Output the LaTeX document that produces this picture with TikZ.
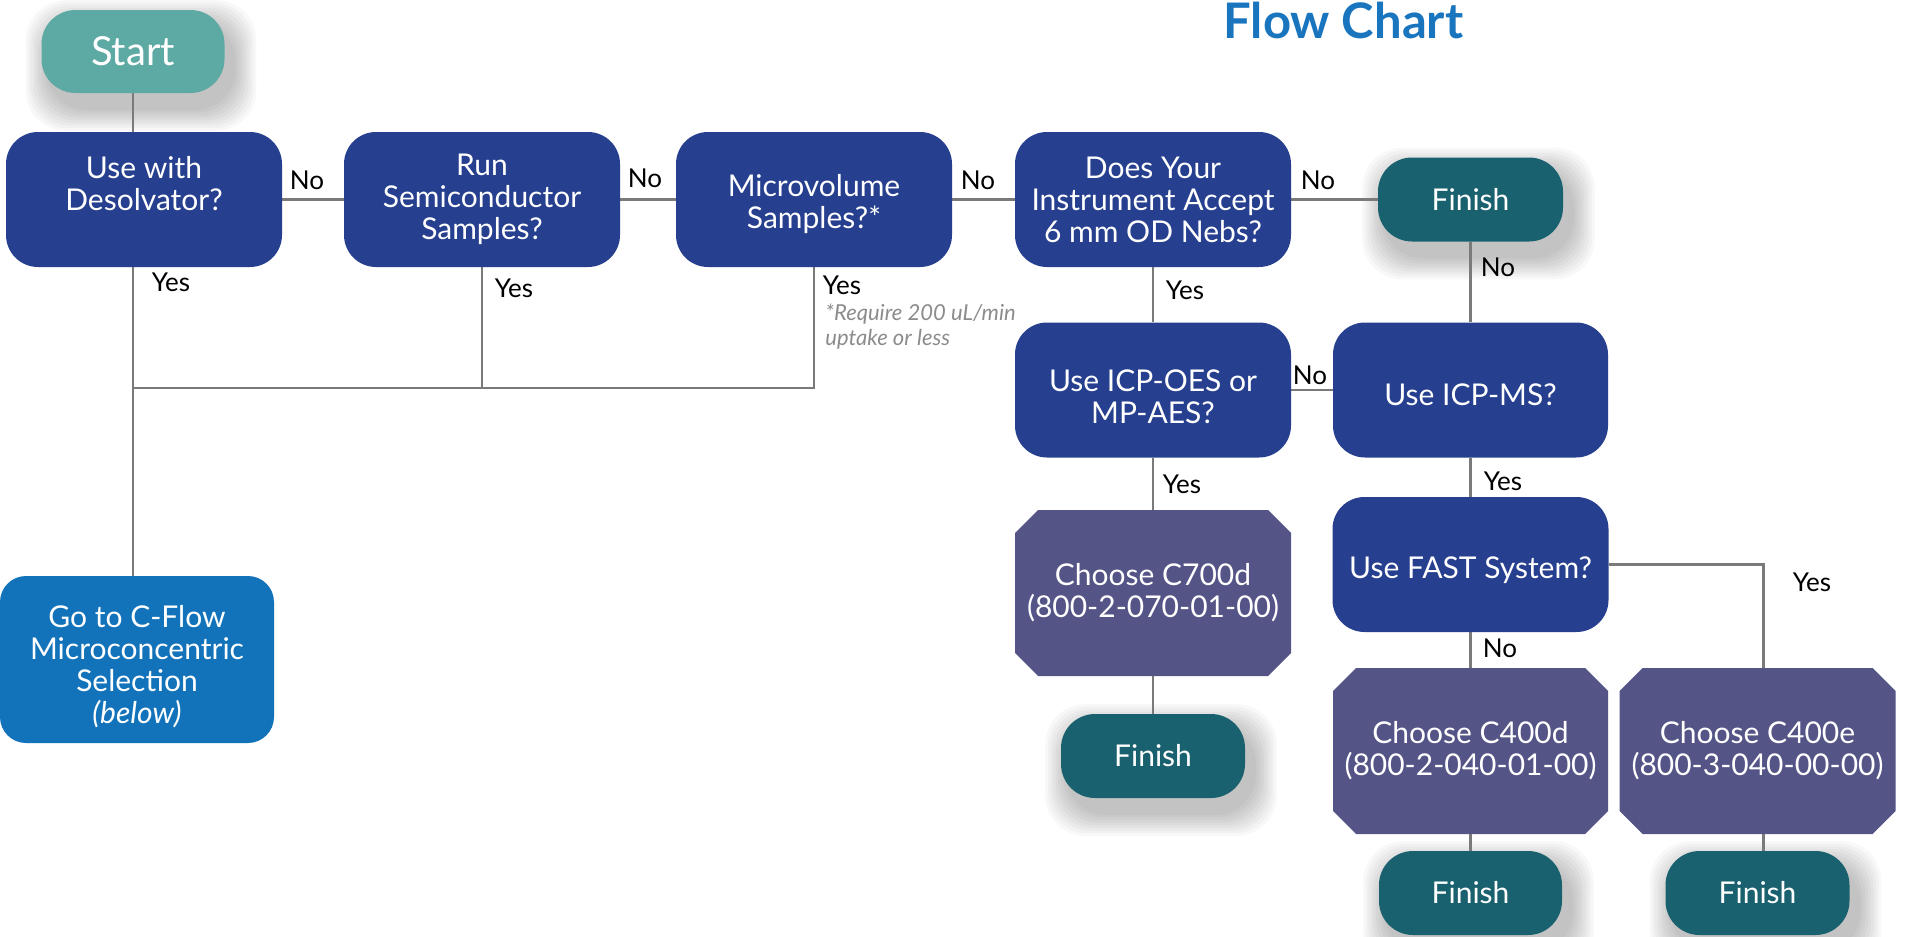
\documentclass[tikz,border=0pt]{standalone}
\usepackage{fontspec}
\setmainfont{Lato}
\usetikzlibrary{backgrounds,calc}
\definecolor{cStart}{RGB}{93,169,164}
\definecolor{cQ}{RGB}{38,63,142}
\definecolor{cFin}{RGB}{25,97,110}
\definecolor{cCh}{RGB}{84,84,134}
\definecolor{cFlow}{RGB}{18,115,186}
\definecolor{cLine}{RGB}{122,122,122}
\definecolor{cTitle}{RGB}{26,117,191}
\definecolor{cNote}{RGB}{140,140,140}
\newcommand{\dn}[1]{\rule{0pt}{#1}}
\tikzset{
 base/.style={inner sep=0pt, text=white, align=center, font=\fontsize{15}{16}\selectfont},
 qbox/.style={base, fill=cQ, rounded corners=16pt, minimum width=138pt, minimum height=67.5pt},
 finbox/.style={base, fill=cFin, rounded corners=17pt, minimum width=92.5pt, minimum height=42pt},
 startbox/.style={base, fill=cStart, rounded corners=17pt, minimum width=91.5pt, minimum height=41.5pt, font=\fontsize{20}{22}\selectfont},
 choosebox/.style={base, minimum width=138pt, minimum height=83pt,
   path picture={\fill[cCh]
     ([xshift=11.5pt]path picture bounding box.south west) --
     ([xshift=-11.5pt]path picture bounding box.south east) --
     ([yshift=11.5pt]path picture bounding box.south east) --
     ([yshift=-11.5pt]path picture bounding box.north east) --
     ([xshift=-11.5pt]path picture bounding box.north east) --
     ([xshift=11.5pt]path picture bounding box.north west) --
     ([yshift=-11.5pt]path picture bounding box.north west) --
     ([yshift=11.5pt]path picture bounding box.south west) -- cycle;}},
 flowbox/.style={base, fill=cFlow, rounded corners=13pt, minimum width=137pt, minimum height=83.5pt},
 conn/.style={draw=cLine, line width=1.4pt},
 lbl/.style={inner sep=0pt, text=black, font=\fontsize{13}{14}\selectfont},
 notetxt/.style={inner sep=0pt, text=cNote, anchor=base west, font=\fontsize{11}{12.5}\selectfont\itshape},
}
\newcommand{\softshade}[1]{%
 \foreach \k in {1,...,9}{%
  \fill[black, opacity=0.028, rounded corners=20pt]
   ($(#1.south west)+({8-\k*2.6},{14+\k*2.6})$) rectangle ($(#1.north east)+({8+\k*2.6},{14-\k*2.6})$);
 }}
\begin{document}
\begin{tikzpicture}[x=0.5pt,y=-0.5pt]
\useasboundingbox (0,0) rectangle (1913,937);
% title
\node[inner sep=0pt, anchor=base west, text=cTitle, font=\fontsize{24.5}{26}\selectfont\bfseries] (title) at (1223,39) {Flow Chart};
% nodes
\node[startbox] (start) at (133,51.5) {Start};
\node[qbox] (des) at (144,199.5) {Use with\\Desolvator?\\~};
\node[qbox] (run) at (482,199.5) {Run\\Semiconductor\\Samples?};
\node[qbox] (micro) at (814,199.5) {\dn{16pt}Microvolume\\Samples?*};
\node[qbox] (does) at (1153,199.5) {Does Your\\Instrument Accept\\6 mm OD Nebs?};
\node[finbox] (fin1) at (1470.5,199.5) {Finish};
\node[qbox] (oes) at (1153,390) {\dn{18pt}Use ICP-OES or\\MP-AES?};
\node[qbox, minimum width=137.5pt] (ms) at (1470.5,390) {\dn{16pt}Use ICP-MS?};
\node[choosebox] (c700) at (1153,593) {Choose C700d\\(800-2-070-01-00)};
\node[finbox, minimum width=92pt] (fin2) at (1153,756) {Finish};
\node[qbox] (fast) at (1470.5,564.5) {\dn{17pt}Use FAST System?};
\node[choosebox, minimum width=137.5pt] (c400d) at (1470.5,751) {Choose C400d\\(800-2-040-01-00)};
\node[choosebox] (c400e) at (1757.5,751) {Choose C400e\\(800-3-040-00-00)};
\node[finbox, minimum width=91.5pt] (fin3) at (1470.5,893) {Finish};
\node[finbox, minimum width=92pt] (fin4) at (1757.5,893) {Finish};
\node[flowbox] (cflow) at (137,659.5) {\dn{18pt}Go to C-Flow\\Microconcentric\\Selection\\\textit{(below)}};
% labels
\node[lbl] (l1) at (307,180) {No};
\node[lbl] (l2) at (645,178) {No};
\node[lbl] (l3) at (978,180) {No};
\node[lbl] (l4) at (1318,180) {No};
\node[lbl] (l5) at (171,282) {Yes};
\node[lbl] (l6) at (514,288) {Yes};
\node[lbl] (l7) at (842,285) {Yes};
\node[notetxt] (n1) at (825,320) {*Require 200 uL/min};
\node[notetxt] (n2) at (825,345) {uptake or less};
\node[lbl] (l8) at (1185,290) {Yes};
\node[lbl] (l9) at (1498,267) {No};
\node[lbl] (l10) at (1310,375) {No};
\node[lbl] (l11) at (1182,484) {Yes};
\node[lbl] (l12) at (1503,481) {Yes};
\node[lbl] (l13) at (1500,648) {No};
\node[lbl] (l14) at (1812,582) {Yes};
\coordinate (bus) at (133,388);
\begin{pgfonlayer}{background}
 \fill[white] (0,0) rectangle (1913,937);
 \softshade{start}
 \softshade{fin1}
 \softshade{fin2}
 \softshade{fin3}
 \softshade{fin4}
 \draw[conn] (start.south) -- (start.south |- cflow.north);
 \draw[conn] (des.east) -- (run.west);
 \draw[conn] (run.east) -- (micro.west);
 \draw[conn] (micro.east) -- (does.west);
 \draw[conn] (does.east) -- (fin1.west);
 \draw[conn] (run.south) -- (run.south |- bus);
 \draw[conn] (micro.south) |- (bus);
 \draw[conn] (does.south) -- (oes.north);
 \draw[conn] (oes.east) -- (ms.west);
 \draw[conn] (fin1.south) -- (ms.north);
 \draw[conn] (oes.south) -- (c700.north);
 \draw[conn] (c700.south) -- (fin2.north);
 \draw[conn] (ms.south) -- (fast.north);
 \draw[conn] (fast.south) -- (c400d.north);
 \draw[conn] (c400d.south) -- (fin3.north);
 \draw[conn] (fast.east) -| ([xshift=3pt]c400e.north);
 \draw[conn] ([xshift=3pt]c400e.south) -- ([xshift=3pt]fin4.north);
\end{pgfonlayer}
\end{tikzpicture}
\end{document}
